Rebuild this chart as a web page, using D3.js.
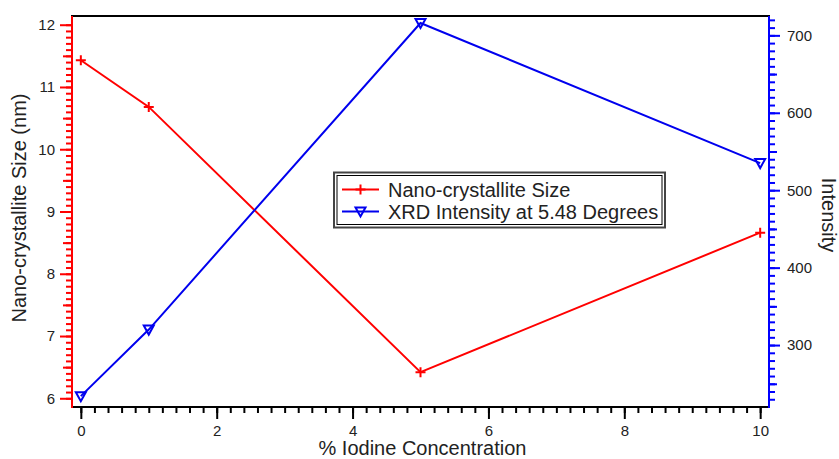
<!DOCTYPE html>
<meta charset="utf-8">
<script src="https://cdn.jsdelivr.net/npm/d3@7/dist/d3.min.js"></script>
<style>
    body { margin: 0; background: #fff; }
    text { font-family: "Liberation Sans", Arial, sans-serif; fill: #222; }
</style>
<body>
<script>
    // data
    var concentration = [0, 1, 5, 10];
    var crystalliteSize = [11.43, 10.68, 6.42, 8.66];
    var xrdIntensity = [234, 320, 716, 535];

    var xTicks = [0, 2, 4, 6, 8, 10];
    var leftTicks = [6, 7, 8, 9, 10, 11, 12];
    var rightTicks = [300, 400, 500, 600, 700];

    var seriesNames = ["Nano-crystallite Size", "XRD Intensity at 5.48 Degrees"];

    var width = 839, height = 459;
    var pl = 72, pr = 769, pt = 16, pb = 407;

    var svg = d3.select("body").append("svg")
        .attr("width", width)
        .attr("height", height);

    var x = d3.scaleLinear().domain([-0.13, 10.13]).range([pl, pr]);
    var yL = d3.scaleLinear().domain([5.86, 12.14]).range([pb, pt]);
    var yR = d3.scaleLinear().domain([220, 725]).range([pb, pt]);

    // minor / medium ticks
    var xMinor = d3.range(0, 10.01, 0.2).map(function (d) { return +d.toFixed(1); });
    var lMinor = d3.range(6, 12.01, 0.1).map(function (d) { return +d.toFixed(1); });
    var lMed = d3.range(6.5, 12, 1);
    var rMinor = d3.range(230, 721, 10);
    var rMed = d3.range(250, 721, 100);

    function noText(g) { g.selectAll("text").remove(); g.select(".domain").remove(); }

    // bottom axis
    var gx0 = svg.append("g").attr("transform", "translate(0," + pb + ")")
        .call(d3.axisBottom(x).tickValues(xMinor).tickSize(6)).call(noText);
    var gx = svg.append("g").attr("transform", "translate(0," + pb + ")")
        .call(d3.axisBottom(x).tickValues(xTicks).tickSize(12).tickPadding(6).tickFormat(d3.format("d")));
    gx.select(".domain").remove();
    [gx0, gx].forEach(function (g) { g.selectAll("line").attr("stroke", "#000").attr("stroke-width", 2); });

    // left axis (red)
    var gl0 = svg.append("g").attr("transform", "translate(" + pl + ",0)")
        .call(d3.axisLeft(yL).tickValues(lMinor).tickSize(6)).call(noText);
    var gl1 = svg.append("g").attr("transform", "translate(" + pl + ",0)")
        .call(d3.axisLeft(yL).tickValues(lMed).tickSize(9)).call(noText);
    var gl = svg.append("g").attr("transform", "translate(" + pl + ",0)")
        .call(d3.axisLeft(yL).tickValues(leftTicks).tickSize(12).tickPadding(5).tickFormat(d3.format("d")));
    gl.select(".domain").remove();
    [gl0, gl1, gl].forEach(function (g) { g.selectAll("line").attr("stroke", "#ff0000").attr("stroke-width", 2); });

    // right axis (blue)
    var gr0 = svg.append("g").attr("transform", "translate(" + pr + ",0)")
        .call(d3.axisRight(yR).tickValues(rMinor).tickSize(6)).call(noText);
    var gr1 = svg.append("g").attr("transform", "translate(" + pr + ",0)")
        .call(d3.axisRight(yR).tickValues(rMed).tickSize(8)).call(noText);
    var gr = svg.append("g").attr("transform", "translate(" + pr + ",0)")
        .call(d3.axisRight(yR).tickValues(rightTicks).tickSize(11).tickPadding(7));
    gr.select(".domain").remove();
    [gr0, gr1, gr].forEach(function (g) { g.selectAll("line").attr("stroke", "#0000ff").attr("stroke-width", 2); });

    [gx, gl, gr].forEach(function (g) {
        g.attr("font-size", null).attr("font-family", null);
        g.selectAll("text").attr("fill", "#222").style("font-size", "15px")
            .style("font-family", "'Liberation Sans', Arial, sans-serif");
    });

    // frame lines
    svg.append("line").attr("x1", pl - 1).attr("x2", pr + 1).attr("y1", pt).attr("y2", pt)
        .attr("stroke", "#000").attr("stroke-width", 2);
    svg.append("line").attr("x1", pl).attr("x2", pr).attr("y1", pb).attr("y2", pb)
        .attr("stroke", "#000").attr("stroke-width", 2);
    svg.append("line").attr("x1", pl).attr("x2", pl).attr("y1", pt).attr("y2", pb + 1)
        .attr("stroke", "#ff0000").attr("stroke-width", 2);
    svg.append("line").attr("x1", pr).attr("x2", pr).attr("y1", pt).attr("y2", pb + 1)
        .attr("stroke", "#0000ff").attr("stroke-width", 2);

    // series
    var redData = concentration.map(function (c, i) { return [c, crystalliteSize[i]]; });
    var blueData = concentration.map(function (c, i) { return [c, xrdIntensity[i]]; });

    svg.append("path").datum(redData)
        .attr("fill", "none").attr("stroke", "#ff0000").attr("stroke-width", 2)
        .attr("d", d3.line().x(function (d) { return x(d[0]); }).y(function (d) { return yL(d[1]); }));
    svg.append("path").datum(blueData)
        .attr("fill", "none").attr("stroke", "#0000ee").attr("stroke-width", 2)
        .attr("d", d3.line().x(function (d) { return x(d[0]); }).y(function (d) { return yR(d[1]); }));

    function plus(g, cx, cy) {
        g.append("path").attr("d", "M" + (cx - 5) + "," + cy + "H" + (cx + 5) + "M" + cx + "," + (cy - 5) + "V" + (cy + 5))
            .attr("stroke", "#ff0000").attr("stroke-width", 2).attr("fill", "none");
    }
    function tri(g, cx, cy) {
        g.append("path").attr("d", "M" + (cx - 5) + "," + (cy - 4) + "H" + (cx + 5) + "L" + cx + "," + (cy + 5) + "Z")
            .attr("stroke", "#0000ee").attr("stroke-width", 2).attr("fill", "none");
    }
    redData.forEach(function (d) { plus(svg, x(d[0]), yL(d[1])); });
    blueData.forEach(function (d) { tri(svg, x(d[0]), yR(d[1])); });

    // axis titles
    svg.append("text").attr("x", (pl + pr) / 2 + 2).attr("y", 455)
        .attr("text-anchor", "middle").style("font-size", "20px")
        .text("% Iodine Concentration");
    svg.append("text").attr("transform", "translate(26," + 208 + ") rotate(-90)")
        .attr("text-anchor", "middle").style("font-size", "20px")
        .text("Nano-crystallite Size (nm)");
    svg.append("text").attr("transform", "translate(822," + 215 + ") rotate(90)")
        .attr("text-anchor", "middle").style("font-size", "20px")
        .text("Intensity");

    // legend
    var lg = svg.append("g");
    lg.append("rect").attr("x", 334).attr("y", 172.5).attr("width", 331).attr("height", 55)
        .attr("fill", "#fff").attr("stroke", "#444").attr("stroke-width", 2);
    lg.append("rect").attr("x", 337).attr("y", 175.5).attr("width", 325).attr("height", 49)
        .attr("fill", "none").attr("stroke", "#000").attr("stroke-width", 1);
    var rows = [189.5, 211.5];
    var colors = ["#ff0000", "#0000ee"];
    seriesNames.forEach(function (name, i) {
        lg.append("line").attr("x1", 342).attr("x2", 379).attr("y1", rows[i]).attr("y2", rows[i])
            .attr("stroke", colors[i]).attr("stroke-width", 2);
        if (i === 0) plus(lg, 360.5, rows[i]); else tri(lg, 360.5, rows[i]);
        lg.append("text").attr("x", 388).attr("y", rows[i] + 7)
            .style("font-size", "20px").text(name);
    });
</script>
</body>
